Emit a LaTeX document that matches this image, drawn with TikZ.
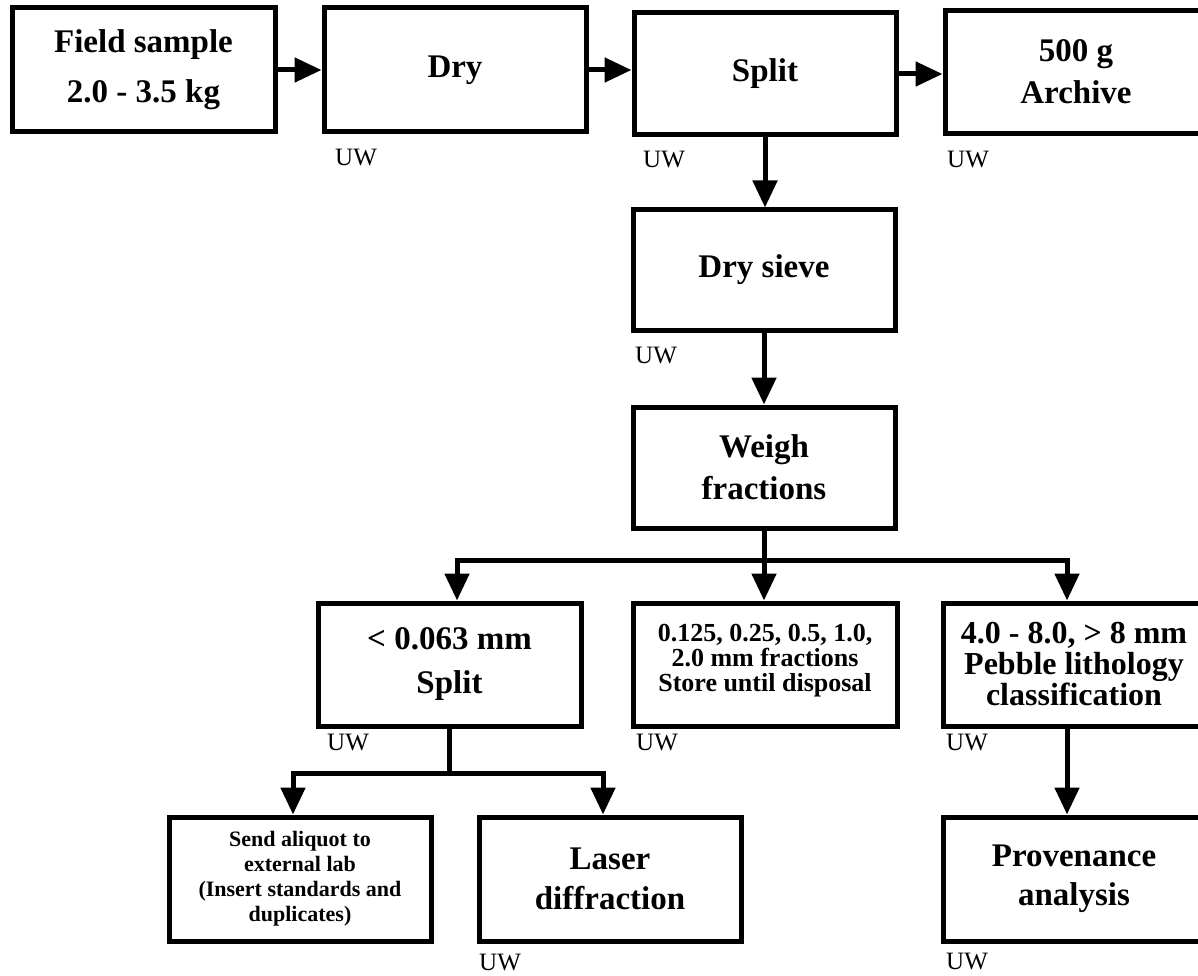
\documentclass[tikz,border=0pt]{standalone}
\usepackage{fontspec}
\setmainfont{Liberation Serif}
\usetikzlibrary{arrows.meta}
\tikzset{
  box/.style={draw, line width=5pt, minimum width=262pt, minimum height=123pt,
    inner sep=0pt, align=center, font=\bfseries\fontsize{33}{42}\selectfont},
  uw/.style={anchor=west, inner sep=0pt, font=\fontsize{25}{25}\selectfont},
  conn/.style={line width=5pt},
  arr/.style={conn, -{Triangle[length=27pt,width=24pt]}},
}
\begin{document}
\begin{tikzpicture}[x=1pt, y=-1pt]
\useasboundingbox (0,0) rectangle (1198,976);
\fill[white] (0,0) rectangle (1198,976);
\clip (0,0) rectangle (1198,976);

% boxes
\node[box, minimum width=263pt, minimum height=124pt, font=\bfseries\fontsize{33}{50}\selectfont] (field) at (143.5,70) {Field sample\\2.0 - 3.5 kg};
\node[box, minimum height=124pt] (dry) at (455,70) {Dry};
\node[box, minimum height=122pt] (split) at (765,74) {Split};
\node[box] (archive) at (1076,72) {500 g\\Archive};
\node[box, minimum height=120pt] (sieve) at (764,270) {Dry sieve};
\node[box, minimum height=121pt] (weigh) at (764,467.5) {Weigh\\fractions};
\node[box, minimum width=263pt, font=\bfseries\fontsize{33}{44}\selectfont] (fine) at (449.5,664.5) {< 0.063 mm\\Split};
\node[box, minimum width=264pt, font=\bfseries\fontsize{26}{25}\selectfont] (mid) at (765,664.5) {0.125, 0.25, 0.5, 1.0,\\2.0 mm fractions\\Store until disposal\\[-11pt]};
\node[box, font=\bfseries\fontsize{32}{31}\selectfont] (coarse) at (1074,664.5) {4.0 - 8.0, > 8 mm\\Pebble lithology\\classification};
\node[box, minimum height=124pt, font=\bfseries\fontsize{22}{25}\selectfont] (send) at (300,879) {Send aliquot to\\external lab\\(Insert standards and\\duplicates)};
\node[box, minimum height=124pt, font=\bfseries\fontsize{33}{40}\selectfont] (laser) at (610,879) {Laser\\diffraction};
\node[box, minimum height=124pt, font=\bfseries\fontsize{33}{39}\selectfont] (prov) at (1074,879) {Provenance\\analysis};

% UW labels
\node[uw] (u1) at (335,158) {UW};
\node[uw] (u2) at (643,160) {UW};
\node[uw] (u3) at (947,160) {UW};
\node[uw] (u4) at (635,356) {UW};
\node[uw] (u5) at (327,742) {UW};
\node[uw] (u6) at (636,742) {UW};
\node[uw] (u7) at (946,742) {UW};
\node[uw] (u8) at (479,962) {UW};
\node[uw] (u9) at (946,961) {UW};

% connectors
\coordinate (bl) at (457,560);
\coordinate (bm) at (764,560);
\coordinate (br) at (1067,560);
\coordinate (sl) at (293,773);
\coordinate (sr) at (603,773);

\draw[arr] (field.east) -- (dry.west);
\draw[arr] (dry.east) -- (dry.east -| split.west);
\draw[arr] (split.east) -- (split.east -| archive.west);
\draw[arr] (split.south) -- (split.south |- sieve.north);
\draw[arr] (sieve.south) -- (weigh.north);
\draw[conn] (weigh.south) -- (bm);
\draw[arr] (weigh.south) -- (weigh.south |- mid.north);
\draw[arr] (bm) -- (bl) -- (bl |- fine.north);
\draw[arr] (bm) -- (br) -- (br |- coarse.north);
\draw[conn] (fine.south) -- (fine.south |- sl);
\draw[arr] (fine.south |- sl) -- (sl) -- (sl |- send.north);
\draw[arr] (fine.south |- sl) -- (sr) -- (sr |- laser.north);
\draw[arr] (br |- coarse.south) -- (br |- prov.north);
\end{tikzpicture}
\end{document}
